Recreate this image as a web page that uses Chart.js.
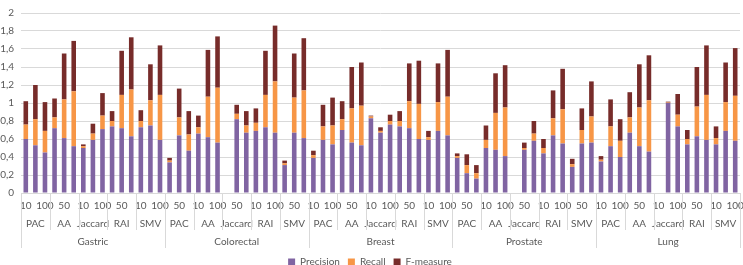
<!DOCTYPE html>
<html>
<head>
<meta charset="utf-8">
<script src="https://cdn.jsdelivr.net/npm/chart.js@4.4.0/dist/chart.umd.min.js"></script>
<style>
  html, body { margin: 0; padding: 0; background: #fff; }
  #wrap { width: 743px; height: 265px; }
</style>
</head>
<body>
<div id="wrap"><canvas id="myChart" width="743" height="265"></canvas></div>
<script>
const cancers = ["Gastric", "Colorectal", "Breast", "Prostate", "Lung"];
const methods = ["PAC", "AA", "Jaccard", "RAI", "SMV"];
const sizes = ["10", "50", "100"];

// stacked segments, one value per bar (cancer > method > size)
const precision = [
  0.60, 0.53, 0.45, 0.72, 0.61, 0.52, 0.50, 0.59, 0.71, 0.74, 0.72, 0.63, 0.73, 0.75, 0.59,
  0.34, 0.64, 0.47, 0.66, 0.62, 0.56, null, 0.82, 0.67, 0.69, 0.73, 0.67, 0.31, 0.67, 0.61,
  0.39, 0.59, 0.54, 0.70, 0.56, 0.53, 0.83, 0.67, 0.76, 0.74, 0.72, 0.60, 0.59, 0.69, 0.64,
  0.39, 0.22, 0.16, 0.50, 0.48, 0.41, null, 0.48, 0.58, 0.44, 0.64, 0.55, 0.29, 0.55, 0.56,
  0.35, 0.52, 0.40, 0.67, 0.52, 0.46, null, 1.00, 0.74, 0.54, 0.63, 0.59, 0.54, 0.69, 0.58
];
const recall = [
  0.16, 0.29, 0.24, 0.12, 0.43, 0.61, 0.02, 0.07, 0.15, 0.06, 0.37, 0.52, 0.07, 0.28, 0.50,
  0.02, 0.20, 0.18, 0.07, 0.45, 0.61, null, 0.06, 0.08, 0.09, 0.36, 0.57, 0.02, 0.39, 0.53,
  0.03, 0.15, 0.21, 0.12, 0.38, 0.44, 0.02, 0.02, 0.04, 0.06, 0.30, 0.39, 0.03, 0.32, 0.43,
  0.02, 0.09, 0.06, 0.09, 0.41, 0.54, null, 0.02, 0.08, 0.06, 0.19, 0.38, 0.03, 0.15, 0.29,
  0.02, 0.22, 0.18, 0.17, 0.43, 0.57, null, 0.005, 0.13, 0.06, 0.33, 0.50, 0.07, 0.32, 0.50
];
const fMeasure = [
  0.26, 0.38, 0.32, 0.21, 0.51, 0.56, 0.02, 0.11, 0.25, 0.11, 0.49, 0.58, 0.12, 0.40, 0.55,
  0.03, 0.32, 0.26, 0.13, 0.52, 0.57, null, 0.10, 0.16, 0.16, 0.49, 0.62, 0.03, 0.49, 0.58,
  0.05, 0.24, 0.31, 0.20, 0.46, 0.48, 0.01, 0.04, 0.07, 0.11, 0.42, 0.48, 0.07, 0.43, 0.52,
  0.03, 0.12, 0.09, 0.16, 0.44, 0.47, null, 0.06, 0.14, 0.10, 0.31, 0.45, 0.06, 0.24, 0.39,
  0.04, 0.30, 0.24, 0.28, 0.48, 0.50, null, 0.01, 0.23, 0.10, 0.44, 0.55, 0.13, 0.44, 0.53
];

const labels = [];
cancers.forEach(c => methods.forEach(m => sizes.forEach(s => labels.push(c + " " + m + " " + s))));

const textColor = "#595959";
const lineColor = "#d9d9d9";
const fontFamily = "Lato, 'Open Sans', sans-serif";

// multi-level category labels under the x axis (Excel style)
const groupLabels = {
  id: "groupLabels",
  afterDraw(chart) {
    const ctx = chart.ctx;
    const x = chart.scales.x;
    const top = chart.chartArea.bottom;
    const n = labels.length;
    const half = (x.getPixelForValue(1) - x.getPixelForValue(0)) / 2;
    const edge = i => x.getPixelForValue(i) - half;

    ctx.save();
    ctx.strokeStyle = lineColor;
    ctx.lineWidth = 1;
    ctx.fillStyle = textColor;
    ctx.textAlign = "center";
    ctx.textBaseline = "middle";
    ctx.font = "10px " + fontFamily;

    // level 1: sizes (every other label shown)
    for (let i = 0; i < n; i += 2) {
      ctx.fillText(sizes[i % 3], x.getPixelForValue(i), top + 13);
    }
    // level 2: methods
    for (let g = 0; g < n / 3; g++) {
      ctx.fillText(methods[g % 5], x.getPixelForValue(g * 3 + 1), top + 31);
      if (g % 5 !== 0) {
        const px = Math.round(edge(g * 3)) + 0.5;
        ctx.beginPath();
        ctx.moveTo(px, top);
        ctx.lineTo(px, top + 37);
        ctx.stroke();
      }
    }
    // level 3: cancers
    for (let c = 0; c <= cancers.length; c++) {
      const px = Math.round(c < cancers.length ? edge(c * 15) : edge(n - 1) + half * 2) + 0.5;
      ctx.beginPath();
      ctx.moveTo(px, top);
      ctx.lineTo(px, top + 55);
      ctx.stroke();
      if (c < cancers.length) {
        ctx.fillText(cancers[c], x.getPixelForValue(c * 15 + 7), top + 49);
      }
    }
    ctx.restore();
  }
};

const ctx1 = document.querySelector("#myChart");

new Chart(ctx1, {
  type: "bar",
  data: {
    labels: labels,
    datasets: [
      { label: "Precision", data: precision, backgroundColor: "#8064a2" },
      { label: "Recall", data: recall, backgroundColor: "#f79646" },
      { label: "F-measure", data: fMeasure, backgroundColor: "#772c2a" },
    ],
  },
  options: {
    responsive: false,
    animation: false,
    layout: { padding: { top: -8, right: 3, left: 0, bottom: -12 } },
    datasets: { bar: { categoryPercentage: 1, barPercentage: 0.48 } },
    plugins: {
      legend: {
        position: "bottom",
        labels: {
          boxWidth: 7,
          boxHeight: 7,
          padding: 8,
          color: textColor,
          font: { family: fontFamily, size: 10 },
        },
      },
      tooltip: { enabled: false },
    },
    scales: {
      x: {
        stacked: true,
        grid: { display: false },
        border: { color: lineColor },
        ticks: { display: false },
        afterFit: s => { s.height = 56; },
      },
      y: {
        stacked: true,
        min: 0,
        max: 2,
        border: { display: false },
        grid: { color: lineColor, drawTicks: false },
        ticks: {
          stepSize: 0.2,
          padding: 7,
          color: textColor,
          font: { family: fontFamily, size: 10 },
          callback: v => String(Math.round(v * 10) / 10).replace(".", ","),
        },
        afterFit: s => { s.width = 21; },
      },
    },
  },
  plugins: [groupLabels],
});
</script>
</body>
</html>
